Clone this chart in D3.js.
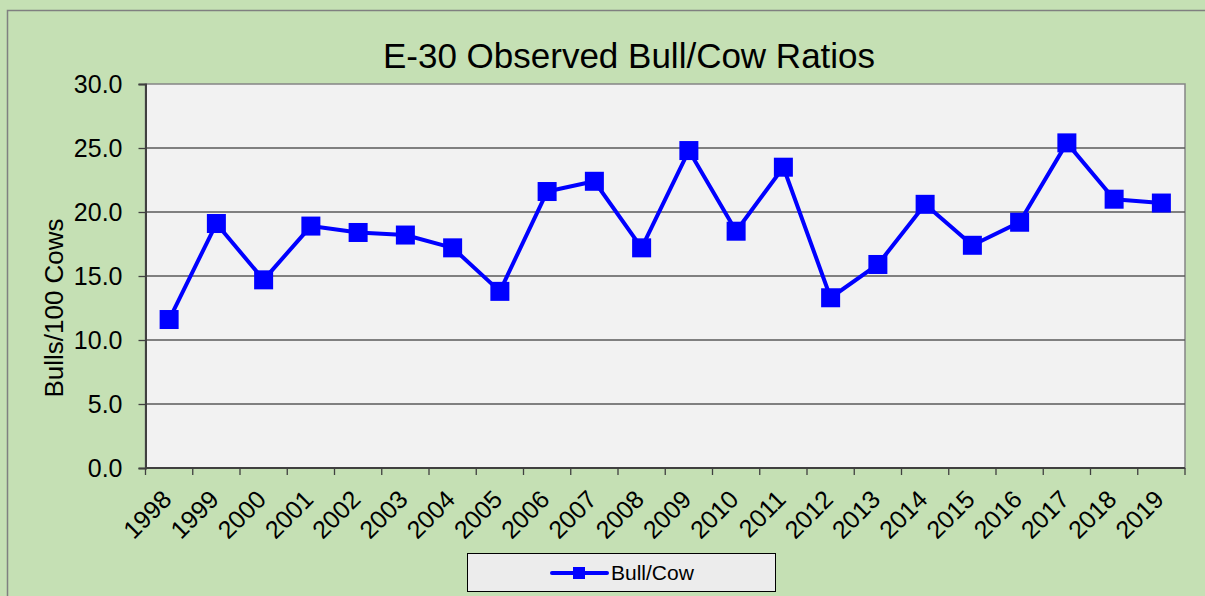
<!DOCTYPE html>
<html>
<head>
<meta charset="utf-8">
<script src="https://cdn.jsdelivr.net/npm/d3@7"></script>
<style>
  body { margin: 0; background: #c5e0b4; }
  svg { display: block; font-family: "Liberation Sans", Arial, sans-serif; }
</style>
</head>
<body>
<div id="chart"></div>
<script>
// data
var years = ["1998","1999","2000","2001","2002","2003","2004","2005","2006","2007","2008",
             "2009","2010","2011","2012","2013","2014","2015","2016","2017","2018","2019"];
var bullCow = [11.6, 19.1, 14.7, 18.9, 18.4, 18.2, 17.2, 13.8, 21.6, 22.4, 17.2,
               24.8, 18.5, 23.5, 13.3, 15.9, 20.6, 17.4, 19.2, 25.4, 21.0, 20.7];
var yTicks = [0, 5, 10, 15, 20, 25, 30];
var seriesName = "Bull/Cow";

var W = 1205, H = 596;
var plotL = 145.5, plotR = 1185, plotT = 84, plotB = 468;
var blue = "#0000ff";

var svg = d3.select("#chart")
    .append("svg")
    .attr("width", W)
    .attr("height", H);

// outer green frame
svg.append("rect")
    .attr("x", 7.5).attr("y", 10.5)
    .attr("width", W).attr("height", H)
    .attr("fill", "#c5e0b4")
    .attr("stroke", "#808080")
    .attr("stroke-width", 1.5);

// title
svg.append("text")
    .attr("x", 629)
    .attr("y", 68)
    .attr("text-anchor", "middle")
    .attr("font-size", "35px")
    .attr("fill", "#000")
    .text("E-30 Observed Bull/Cow Ratios");

var x = d3.scaleBand().domain(years).range([plotL, plotR]);
var y = d3.scaleLinear().domain([0, 30]).range([plotB, plotT]);

// plot area
svg.append("rect")
    .attr("x", plotL).attr("y", plotT)
    .attr("width", plotR - plotL).attr("height", plotB - plotT)
    .attr("fill", "#f2f2f2")
    .attr("stroke", "#858585")
    .attr("stroke-width", 1.5);

// gridlines
svg.append("g")
    .selectAll("line")
    .data(yTicks.filter(function (d) { return d > 0 && d < 30; }))
    .enter()
    .append("line")
    .attr("x1", plotL).attr("x2", plotR)
    .attr("y1", function (d) { return y(d); })
    .attr("y2", function (d) { return y(d); })
    .attr("stroke", "#5a5a5a")
    .attr("stroke-width", 1.3);

// y axis
var yAxis = d3.axisLeft(y)
    .tickValues(yTicks)
    .tickFormat(d3.format(".1f"))
    .tickSize(7)
    .tickPadding(16);

var gy = svg.append("g")
    .attr("transform", "translate(" + plotL + ",0)")
    .call(yAxis);
gy.select(".domain").attr("stroke", "#404040").attr("stroke-width", 2);
gy.selectAll(".tick line").attr("stroke", "#404040").attr("stroke-width", 1.3);
gy.selectAll(".tick text")
    .attr("font-size", "25px")
    .attr("font-family", "Liberation Sans, Arial, sans-serif")
    .attr("fill", "#000");

// x axis: ticks on band edges, labels at centres
svg.append("line")
    .attr("x1", plotL).attr("x2", plotR)
    .attr("y1", plotB).attr("y2", plotB)
    .attr("stroke", "#404040")
    .attr("stroke-width", 2);

var edges = years.map(function (d) { return x(d); }).concat([plotR]);
svg.append("g")
    .selectAll("line")
    .data(edges)
    .enter()
    .append("line")
    .attr("x1", function (d) { return d; })
    .attr("x2", function (d) { return d; })
    .attr("y1", plotB).attr("y2", plotB + 7)
    .attr("stroke", "#404040")
    .attr("stroke-width", 1.3);

svg.append("g")
    .selectAll("text")
    .data(years)
    .enter()
    .append("text")
    .attr("transform", function (d) {
        return "translate(" + (x(d) + x.bandwidth() / 2 + 4) + "," + 501 + ") rotate(-45)";
    })
    .attr("text-anchor", "end")
    .attr("font-size", "25px")
    .attr("fill", "#000")
    .text(function (d) { return d; });

// y axis title
svg.append("text")
    .attr("transform", "translate(63,308) rotate(-90)")
    .attr("text-anchor", "middle")
    .attr("font-size", "26px")
    .attr("fill", "#000")
    .text("Bulls/100 Cows");

// series line
var line = d3.line()
    .x(function (d, i) { return x(years[i]) + x.bandwidth() / 2; })
    .y(function (d) { return y(d); });

svg.append("path")
    .datum(bullCow)
    .attr("d", line)
    .attr("fill", "none")
    .attr("stroke", blue)
    .attr("stroke-width", 4)
    .attr("stroke-linejoin", "round");

var ms = 19;
svg.append("g")
    .selectAll("rect")
    .data(bullCow)
    .enter()
    .append("rect")
    .attr("x", function (d, i) { return x(years[i]) + x.bandwidth() / 2 - ms / 2; })
    .attr("y", function (d) { return y(d) - ms / 2; })
    .attr("width", ms)
    .attr("height", ms)
    .attr("fill", blue);

// legend
var lg = svg.append("g");
lg.append("rect")
    .attr("x", 467.5).attr("y", 553.5)
    .attr("width", 308).attr("height", 38)
    .attr("fill", "#ececec")
    .attr("stroke", "#000")
    .attr("stroke-width", 1);
lg.append("line")
    .attr("x1", 552).attr("x2", 607)
    .attr("y1", 573).attr("y2", 573)
    .attr("stroke", blue)
    .attr("stroke-width", 4)
    .attr("stroke-linecap", "round");
lg.append("rect")
    .attr("x", 573).attr("y", 567)
    .attr("width", 12).attr("height", 12)
    .attr("fill", blue);
lg.append("text")
    .attr("x", 611)
    .attr("y", 580)
    .attr("font-size", "21px")
    .attr("fill", "#000")
    .text(seriesName);
</script>
</body>
</html>
